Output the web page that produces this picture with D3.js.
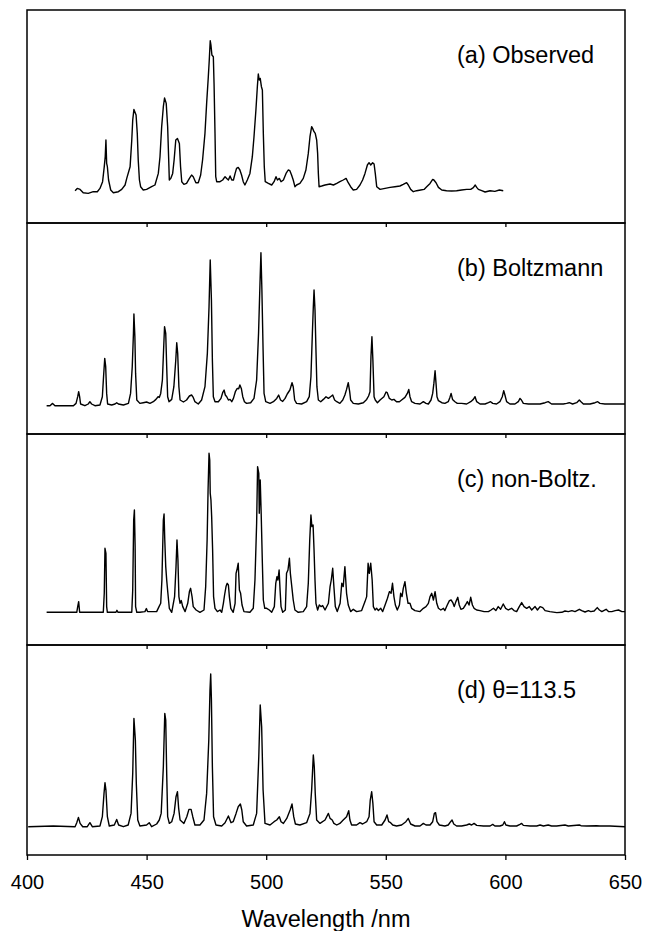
<!DOCTYPE html>
<html>
<head>
<meta charset="utf-8">
<script src="https://cdn.jsdelivr.net/npm/d3@7"></script>
<style>
  html, body { margin: 0; padding: 0; background: #fff; }
  svg { display: block; }
  text { font-family: "Liberation Sans", Arial, Helvetica, sans-serif; fill: #000; }
</style>
</head>
<body>
<svg id="chart" width="645" height="931"></svg>
<script>
// ---------- DATA (wavelength nm, relative intensity a.u.) ----------
const xTicks = [400, 450, 500, 550, 600, 650];
const xLabel = "Wavelength /nm";
const panelLabels = ["(a) Observed", "(b) Boltzmann", "(c) non-Boltz.", "(d) \u03B8=113.5"];

const observed = [[420.1,1],[421.0,3.3],[422.2,2.3],[423.5,-1],[425.6,-1.7],[427.7,0],[429.4,0],[430.5,3.3],[431.6,10],[432.3,25],[432.7,35],[433.0,51.7],[433.3,28.3],[433.6,25],[434.1,11.7],[435.0,1.7],[436.1,-1],[438.2,0],[439.6,2.3],[441.0,6.7],[441.7,13.3],[443.1,25],[443.8,51.7],[444.2,71.7],[444.7,82.3],[445.6,76.7],[446.1,58.3],[446.5,31.7],[447.0,11.7],[447.5,5],[448.6,1.7],[450.0,2.3],[452.1,5],[453.5,6.7],[454.9,18.3],[455.6,35],[456.3,65],[457.0,85],[457.5,93.7],[458.2,88.3],[458.8,65],[459.2,35],[459.5,11.7],[460.1,13.3],[460.9,18.3],[461.5,31.7],[462.2,51.7],[462.9,53.3],[463.7,48.3],[464.2,25],[464.7,10],[465.6,7.3],[466.7,8.3],[467.9,13.3],[468.8,16.7],[469.5,15],[470.6,9],[471.6,9],[472.6,16.7],[473.4,31.7],[474.4,58.3],[475.1,88.3],[475.8,115],[476.2,131.7],[476.6,151],[476.9,146.7],[477.3,136.7],[477.9,135],[478.2,108.3],[478.6,58.3],[478.9,15],[479.3,10],[480.7,10],[481.8,11.7],[482.8,15],[483.5,13.3],[484.2,11.7],[484.9,15.7],[485.6,11.7],[486.3,11.7],[487.0,18.3],[487.6,23.3],[488.3,24.3],[489.0,21.7],[489.7,16.7],[490.4,10],[491.1,6.7],[492.1,11.7],[493.2,18.3],[494.2,35],[494.9,55],[495.7,81.7],[496.3,105],[496.7,117.7],[497.1,111.7],[497.5,113.3],[498.0,105],[498.4,101.7],[498.8,58.3],[499.2,25],[499.6,10],[500.9,8.3],[502.3,6.7],[503.3,10],[504.1,15],[504.7,11.7],[505.5,13.3],[506.2,10],[507.2,11.7],[508.3,18.3],[509.2,21.7],[509.9,21],[510.6,16.7],[511.3,11.7],[512.0,5],[512.7,6.7],[514.1,8.3],[515.5,13.3],[516.6,21.7],[517.6,38.3],[518.3,55],[519.0,65],[519.4,63.3],[520.0,60],[520.5,58.3],[521.1,51.7],[521.5,38.3],[521.8,18.3],[522.1,5],[523.2,5.7],[524.6,6.7],[526.7,7.7],[528.1,6.7],[529.5,8.3],[530.8,10],[532.2,11.7],[533.4,13.3],[534.3,9],[535.3,5],[536.4,1.7],[537.8,2.3],[539.2,6.7],[540.3,11.7],[541.3,18.3],[542.3,26.7],[543.0,29],[543.7,26.7],[544.5,29],[545.1,27.7],[545.6,18.3],[546.2,5],[547.6,2.3],[549.7,3.3],[551.8,4.3],[553.8,5],[555.9,5.7],[557.3,7.3],[558.7,9],[559.4,6.7],[560.4,2.3],[561.5,0],[562.9,1],[564.6,1.7],[566.0,2.3],[567.1,5],[568.5,8.3],[569.6,12.3],[570.1,11.7],[571.0,9],[572.0,4.3],[573.4,1.7],[575.4,1],[577.5,0.7],[579.6,1],[581.7,1.7],[583.8,2.3],[585.5,2.3],[586.6,4],[587.4,6.7],[588.0,4.3],[588.7,2.3],[590.1,1],[591.5,-0.3],[593.6,1],[595.6,0.3],[597.5,1.7],[599.1,1]];

const boltzmann = [[408.2,0],[409.6,0],[410.7,2.3],[411.7,0],[419.4,0],[420.5,2.3],[421.2,9],[421.6,14],[422.0,9],[422.4,1.7],[424.2,0],[425.6,1.7],[426.3,4],[427.0,1.7],[428.4,0],[430.5,0.7],[431.5,9],[432.0,29],[432.5,47.3],[432.9,39],[433.3,12.3],[433.7,1.7],[435.4,0.7],[436.8,1.7],[437.5,3],[438.2,1.7],[440.3,0.7],[442.4,2.3],[443.3,12.3],[444.0,39],[444.5,72.3],[444.7,91.7],[445.1,69],[445.4,32.3],[445.9,5.7],[447.2,2.3],[448.6,3],[450.0,3.7],[451.4,2.3],[452.8,4],[453.9,6.3],[454.8,9],[455.3,8.3],[455.9,12.3],[456.6,25.7],[457.1,55.7],[457.5,79],[458.0,72.3],[458.4,39],[458.8,9],[459.4,4],[460.5,6.3],[461.4,19],[462.2,45.7],[462.6,63],[463.0,52.3],[463.5,19],[464.0,5.7],[465.4,3.7],[466.7,5.7],[467.9,9.7],[468.8,10.7],[469.5,8.3],[470.2,4],[471.6,1.7],[473.0,5.7],[474.4,19],[475.4,52.3],[476.1,99],[476.6,145.7],[477.1,105.7],[477.5,45.7],[477.9,9],[478.6,4],[480.0,4],[481.1,7.3],[481.8,13],[482.4,15.7],[482.9,10.7],[483.5,9],[484.2,5.7],[484.9,6.3],[485.6,4],[486.3,7.3],[487.1,14],[487.9,17.3],[488.5,17],[489.0,20.7],[489.6,17.3],[490.2,9],[490.9,4],[491.8,2.3],[493.5,3],[494.9,7.3],[496.0,25.7],[496.8,72.3],[497.4,122.3],[497.8,153],[498.2,115.7],[498.7,55.7],[499.1,12.3],[499.8,4],[501.6,2.3],[503.0,4],[504.4,7.3],[505.2,10.7],[506.0,5.7],[506.9,4.3],[507.9,7.3],[508.8,11.7],[509.9,15.7],[510.8,23],[511.3,19],[511.9,5.7],[512.7,2.3],[514.8,1.7],[516.9,4],[518.0,9],[518.7,29],[519.3,72.3],[519.7,99],[520.0,115.7],[520.4,95.7],[520.8,55.7],[521.2,19],[521.8,5.7],[522.8,4],[523.9,6.3],[525.0,9],[526.0,7.3],[526.9,9],[527.8,10.7],[528.6,5.7],[529.5,4],[530.8,2.3],[532.0,5.7],[532.9,10.7],[533.6,16.3],[534.3,23],[534.9,14],[535.3,5.7],[536.4,2.3],[538.5,1.7],[540.6,3],[542.0,6.3],[542.8,9.7],[543.4,14],[543.8,49],[544.2,69],[544.6,45.7],[545.1,9],[545.6,5.7],[546.5,3],[547.6,5.7],[549.2,9],[550.1,13.7],[550.6,13],[551.5,7.3],[552.5,5.7],[553.4,6.3],[554.5,4],[555.7,4],[556.6,5.7],[558.0,8.3],[559.0,12.3],[559.6,16.3],[560.1,9],[560.8,4],[562.2,2.3],[564.3,1.7],[565.7,4],[566.8,2.3],[567.8,1.7],[568.9,5.7],[569.6,12.3],[570.1,22.3],[570.6,35],[571.0,22.3],[571.4,9],[572.0,5],[573.4,3],[574.7,2.3],[576.1,4],[576.8,8.3],[577.3,12.3],[577.9,6.3],[578.9,4],[579.9,2.3],[581.7,2.3],[583.8,1.7],[585.5,4],[586.6,6.3],[587.3,9],[588.0,4],[589.4,1.7],[591.5,1.7],[592.9,3],[593.8,4],[594.7,2.3],[596.3,1.7],[597.7,4],[598.7,9],[599.3,15],[599.8,10.7],[600.5,4],[601.9,1.7],[604.0,1.7],[605.4,4],[606.1,7.3],[606.7,5.7],[607.5,2.3],[609.6,1.7],[611.7,1.7],[614.5,1.7],[616.6,3],[617.9,4],[619.3,1.7],[621.4,1.7],[624.2,1.7],[625.6,2.3],[626.7,3],[628.1,1.7],[629.8,3],[630.9,5.7],[631.6,4],[632.6,1.7],[635.4,1.7],[637.5,3],[638.6,4],[639.5,2.3],[641.6,1.7],[644.4,1.7],[646.5,1.7],[650.0,1.7]];

const nonBoltzmann = [[408.2,0],[420.8,0],[421.2,5.7],[421.6,10.7],[422.0,0],[431.9,0],[432.3,19],[432.6,64],[433.0,59],[433.3,5.7],[433.6,0],[437.2,0],[437.6,2],[438.0,0],[443.8,0],[444.2,22.3],[444.6,92.3],[444.9,102.3],[445.2,65.7],[445.4,5.7],[445.9,0],[447.2,0],[449.3,0.7],[449.9,3.7],[450.4,0.7],[453.5,0.7],[454.2,0.7],[455.2,5.7],[455.9,9],[456.4,32.3],[457.0,92.3],[457.3,98.3],[457.6,72.3],[458.0,45.7],[458.4,32.3],[458.9,19],[459.5,4],[460.5,0],[461.7,15.7],[462.3,45.7],[462.7,72.3],[463.1,52.3],[463.5,15.7],[464.0,9],[464.5,11.7],[465.1,5.7],[466.1,0.7],[467.2,9],[467.9,20.7],[468.4,24],[469.0,15.7],[469.5,5.7],[470.7,2.3],[472.3,0],[474.0,2.3],[474.7,25.7],[475.3,72.3],[475.7,122.3],[476.1,159],[476.4,152.3],[476.6,119],[476.9,112.3],[477.2,95.7],[477.6,62.3],[478.0,15.7],[478.6,4],[479.6,0.7],[480.7,2.3],[481.4,0],[482.1,9],[482.6,17.3],[483.2,25.7],[483.7,29],[484.2,27.3],[484.6,15.7],[485.2,4],[486.2,0],[487.0,9],[487.4,39],[487.9,44],[488.3,49],[488.8,22.3],[489.3,19],[489.9,7.3],[490.7,0.7],[493.2,0],[494.6,4],[495.3,32.3],[496.0,89],[496.4,145.7],[496.9,139],[497.1,99],[497.5,132.3],[497.9,99],[498.4,49],[498.8,12.3],[499.4,4],[500.2,4],[501.3,2.3],[502.3,0],[503.4,5.7],[504.0,29],[504.5,35.7],[504.9,32.3],[505.4,42.3],[505.8,22.3],[506.2,5.7],[506.9,0],[508.0,2.3],[508.5,39],[509.1,42.3],[509.7,54],[510.1,39],[510.7,25.7],[511.3,12.3],[512.0,2.3],[513.4,0],[515.5,0.7],[516.9,5.7],[517.6,29],[518.2,72.3],[518.7,97.3],[519.1,85.7],[519.6,87.3],[520.0,62.3],[520.4,32.3],[520.8,9],[521.5,2.3],[522.2,7.3],[522.9,5.7],[523.6,6.7],[524.6,2.3],[526.0,9],[526.7,25.7],[527.2,32.3],[527.8,44],[528.3,25.7],[528.9,5.7],[529.7,0.7],[530.9,9],[531.6,29],[532.2,25.7],[532.9,45.7],[533.6,19],[534.3,7.3],[535.3,0.7],[536.4,3],[537.8,0.7],[539.9,1.7],[541.3,10.7],[542.0,15.7],[542.6,49],[543.1,39],[543.7,49],[544.3,32.3],[544.8,5.7],[545.5,2.3],[546.2,4],[546.9,1.7],[547.9,4],[548.7,0.7],[549.7,7.3],[550.7,14],[551.5,20.7],[552.2,19],[552.8,29],[553.4,15.7],[554.0,7.3],[554.8,2.3],[555.7,7.3],[556.2,19],[556.8,15.7],[557.3,24],[558.0,30.7],[558.6,19],[559.3,9],[560.1,9],[560.8,4],[562.2,1.7],[564.3,0.7],[565.7,4],[566.8,5.7],[567.8,9],[568.5,15.7],[569.2,19],[569.9,12.3],[570.6,20.7],[571.3,9],[572.0,4],[573.0,2.3],[574.1,4],[574.7,1.7],[575.7,7.3],[576.6,11.7],[577.3,12.3],[578.0,9.7],[578.6,5.7],[579.3,10.7],[580.1,15],[580.7,7.3],[581.4,3],[582.4,4],[583.3,7.3],[584.1,10.7],[584.8,7.3],[585.5,15],[586.2,7.3],[586.9,4],[588.0,2.3],[589.4,1.7],[591.1,0.7],[592.9,0.7],[594.0,2.3],[595.0,4],[596.0,1.7],[597.0,5.7],[598.0,3],[599.1,8.3],[600.1,4],[601.2,2.3],[602.6,4],[603.6,1.7],[604.7,0.7],[605.8,5.7],[606.8,9.7],[607.8,5.7],[608.9,4],[610.0,5.7],[611.0,2.3],[612.4,5.7],[613.4,2.3],[614.5,5.7],[615.6,4.7],[616.6,1.7],[618.6,0.7],[621.5,-0.3],[623.6,0],[624.9,1.3],[626.3,0.7],[627.8,1.7],[629.1,0.7],[630.9,3],[631.9,1.7],[633.3,0.3],[634.7,1.7],[635.7,0.7],[637.1,1.3],[638.4,4.7],[639.3,2.3],[640.3,0.7],[642.1,3],[643.1,0.7],[644.5,0.7],[645.9,1.7],[647.3,2.3],[648.7,0.7],[650.0,0.7]];

const theta1135 = [[400.5,0],[411.0,0.7],[420.1,0],[420.8,4],[421.5,9.3],[422.2,3.3],[423.3,0],[425.2,0],[426.3,4],[427.3,0],[430.5,0.7],[431.5,10],[432.2,33.3],[432.6,44],[433.0,36.7],[433.6,10],[434.4,0.7],[436.5,1.7],[437.5,7.3],[438.3,1.7],[440.3,0],[442.3,1.7],[443.5,13.3],[444.2,53.3],[444.7,108.3],[445.3,86.7],[445.7,43.3],[446.3,6.7],[447.2,0.7],[450.0,1.7],[451.1,4],[452.1,0],[454.2,2.7],[455.3,6.7],[456.1,13.3],[457.0,60],[457.6,113.3],[458.0,106.7],[458.4,53.3],[458.8,10],[459.5,3.3],[460.5,5],[461.5,13.3],[462.3,30],[462.9,35],[463.4,18.3],[464.0,6.7],[464.8,5],[465.6,3.3],[466.8,10],[467.7,17.3],[468.6,17.3],[469.3,10],[470.2,1.7],[472.3,1.7],[474.0,6.7],[475.1,33.3],[476.0,86.7],[476.5,136.7],[476.8,152.7],[477.1,126.7],[477.5,60],[478.0,10],[479.0,1.7],[481.4,0.7],[482.8,4],[484.2,10.7],[485.3,4],[486.2,5],[487.4,13.3],[488.3,20],[489.2,22.7],[489.8,16.7],[490.4,5],[491.8,0.7],[494.6,1.7],[496.0,13.3],[496.9,70],[497.5,121.7],[498.1,100],[498.7,36.7],[499.5,3.3],[501.6,1.7],[503.3,5],[504.4,6.7],[505.5,10],[506.2,5],[507.2,3.3],[508.6,8.3],[510.0,16.7],[510.8,22.7],[511.5,10],[512.2,2.7],[514.1,1.7],[516.9,4],[518.3,13.3],[519.0,36.7],[519.7,71.7],[520.1,60],[520.5,33.3],[521.1,6.7],[522.5,3.3],[524.6,6.7],[526.0,13.3],[526.7,8.3],[527.6,6.7],[528.3,3.3],[529.5,1.7],[530.8,3.3],[532.2,6.7],[533.6,10],[534.5,16],[535.0,6.7],[535.7,1.7],[537.8,1.7],[539.2,4],[540.3,2.7],[542.0,5],[543.0,10],[543.5,26.7],[544.1,35],[544.6,23.3],[545.1,5],[546.2,1.7],[548.3,1.7],[549.7,6.7],[550.5,11.7],[551.2,5],[552.0,4],[552.9,1.7],[554.5,0.7],[556.6,1.7],[558.4,5],[559.4,8.3],[560.4,2.7],[562.2,0.7],[564.3,0.7],[565.7,3.3],[566.8,1.7],[568.5,1.7],[569.6,5],[570.3,13.3],[570.8,14],[571.4,5],[572.4,1.7],[574.7,0.7],[576.1,1.7],[577.1,5],[577.7,6.7],[578.4,2.7],[579.6,0.7],[581.7,0.7],[583.8,1.7],[584.9,2.7],[585.9,1.7],[586.9,3.3],[588.0,1.3],[590.8,0.7],[593.6,0.7],[594.7,2.3],[595.6,0.7],[597.7,0.7],[598.9,1.7],[599.6,5],[600.2,1.7],[601.9,0.7],[604.7,0.7],[606.1,2.3],[606.8,3.3],[607.5,1.3],[610.3,0.7],[613.1,0.7],[614.5,1.7],[615.9,0.7],[617.9,1.7],[619.3,0.7],[621.4,0.7],[624.9,1.7],[626.3,0.7],[630.9,1.7],[631.6,1],[634.0,0.7],[638.1,1],[639.5,0.7],[643.7,0.7],[650.0,0]];

// intensity ranges shown in each panel (a.u.)
const yDomains = [[-31.3, 181.7], [-28.3, 182.7], [-32.7, 178.3], [-28.3, 181.7]];
const series = [observed, boltzmann, nonBoltzmann, theta1135];

// ---------- LAYOUT ----------
const left = 27, right = 625;
const panelTop = [10, 223, 434, 645];
const panelBottom = [223, 434, 645, 855];

const svg = d3.select("#chart");
const x = d3.scaleLinear().domain([400, 650]).range([left, right]);
const line = d3.line().x(d => x(d[0]));

series.forEach((data, i) => {
  const y = d3.scaleLinear().domain(yDomains[i]).range([panelBottom[i], panelTop[i]]);
  const g = svg.append("g");

  g.append("path")
    .datum(data)
    .attr("fill", "none")
    .attr("stroke", "#000")
    .attr("stroke-width", 1.4)
    .attr("stroke-linejoin", "round")
    .attr("d", line.y(d => y(d[1])));

  // frame
  g.append("rect")
    .attr("x", left).attr("y", panelTop[i])
    .attr("width", right - left).attr("height", panelBottom[i] - panelTop[i])
    .attr("fill", "none").attr("stroke", "#000").attr("stroke-width", 1.5);

  // inward ticks on the top edge of lower panels
  if (i > 0) {
    const ax = g.append("g")
      .attr("transform", `translate(0,${panelTop[i]})`)
      .call(d3.axisTop(x).tickValues([450, 500, 550, 600]).tickSize(-4).tickFormat(""));
    ax.select(".domain").remove();
    ax.selectAll("line").attr("stroke", "#000").attr("stroke-width", 1.3);
  }

  g.append("text")
    .attr("x", 457)
    .attr("y", panelTop[i] + 53)
    .attr("font-size", 23.5)
    .text(panelLabels[i]);
});

// bottom axis
const bx = svg.append("g")
  .attr("transform", `translate(0,${panelBottom[3]})`)
  .call(d3.axisBottom(x).tickValues(xTicks).tickSize(5).tickPadding(15).tickFormat(d3.format("d")));
bx.select(".domain").remove();
bx.selectAll("line").attr("stroke", "#000").attr("stroke-width", 1.3);
bx.selectAll("text")
  .attr("font-size", 20)
  .attr("font-family", "'Liberation Sans', Arial, sans-serif")
  .attr("fill", "#000");

svg.append("text")
  .attr("x", (left + right) / 2)
  .attr("y", 927)
  .attr("text-anchor", "middle")
  .attr("font-size", 23.5)
  .text(xLabel);
</script>
</body>
</html>
